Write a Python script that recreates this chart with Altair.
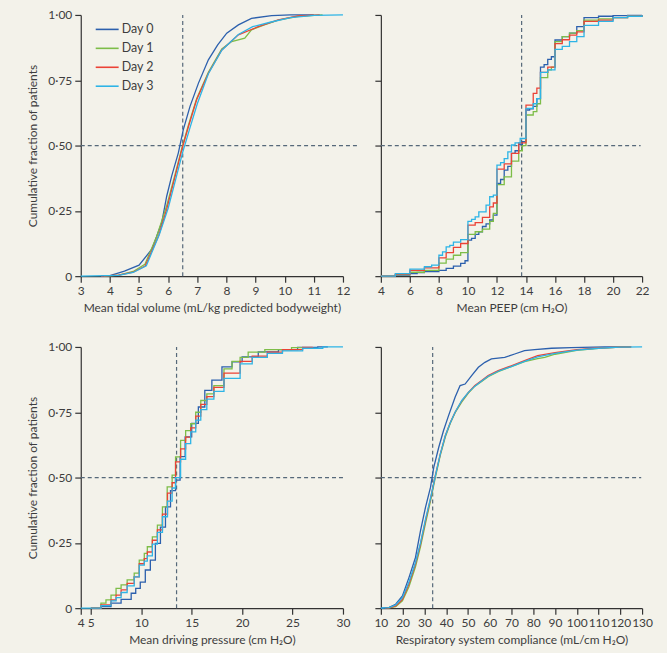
import altair as alt
import pandas as pd

DAYS = ["Day 0", "Day 1", "Day 2", "Day 3"]
COLORS = ["#2c60ad", "#7dbd48", "#ec4236", "#2db4e6"]
BG = "#f3f2ea"
DASH = "#56697a"
FONT = "Lato"
TEXT = "#3d3d3d"

Y_TITLE = "Cumulative fraction of patients"
Y_TICKS = [0, 0.25, 0.5, 0.75, 1.0]

# ---- Panel A: mean tidal volume (mL/kg PBW) ----
TV_D0_X = [3.7, 4.0, 4.5, 5.0, 5.44, 5.78, 5.95, 6.12, 6.35, 6.52, 6.75, 7.04, 7.38, 7.7, 8.01, 8.41, 8.86, 9.55, 10.2, 11.0]
TV_D0_F = [0, 0.002, 0.019, 0.042, 0.103, 0.205, 0.306, 0.383, 0.472, 0.561, 0.65, 0.739, 0.828, 0.885, 0.93, 0.962, 0.987, 0.997, 1.0, 1.0]
TV_D1_X = [3.8, 4.3, 4.8, 5.2, 5.6, 5.95, 6.24, 6.47, 6.70, 6.98, 7.38, 7.84, 8.18, 8.63, 8.86, 9.3, 9.78, 10.46, 11.3]
TV_D1_F = [0, 0.004, 0.018, 0.045, 0.15, 0.27, 0.39, 0.49, 0.58, 0.68, 0.78, 0.87, 0.898, 0.911, 0.943, 0.962, 0.98, 0.995, 1.0]
TV_D2_X = [3.7, 4.3, 4.8, 5.21, 5.67, 5.95, 6.24, 6.47, 6.70, 6.98, 7.38, 7.84, 8.41, 9.09, 9.78, 10.46, 11.2]
TV_D2_F = [0, 0.004, 0.015, 0.039, 0.154, 0.256, 0.383, 0.485, 0.574, 0.676, 0.777, 0.866, 0.924, 0.955, 0.981, 0.996, 1.0]
TV_D3_X = [3.0, 4.3, 4.8, 5.25, 5.7, 6.0, 6.28, 6.5, 6.74, 7.0, 7.38, 7.84, 8.41, 8.9, 9.5, 10.2, 11.0, 12.0]
TV_D3_F = [0, 0.003, 0.014, 0.04, 0.16, 0.26, 0.38, 0.475, 0.565, 0.66, 0.775, 0.865, 0.925, 0.955, 0.972, 0.99, 0.998, 1.0]

# ---- Panel B: mean PEEP (cm H2O) ----
PEEP_D0_X = [4, 5, 6, 6.5, 7, 8, 8.5, 9, 9.5, 9.8, 10, 10.25, 10.5, 10.75, 11, 11.25, 11.5, 11.75, 12, 12.25, 12.5, 12.75, 13, 13.25, 13.5, 13.75, 14, 14.25, 14.5, 14.75, 15, 15.25, 15.5, 15.75, 16, 16.5, 17, 17.5, 18, 19, 20, 21, 22]
PEEP_D0_F = [0, 0.004, 0.01, 0.014, 0.017, 0.022, 0.03, 0.038, 0.049, 0.059, 0.138, 0.145, 0.16, 0.17, 0.19, 0.2, 0.215, 0.234, 0.355, 0.37, 0.406, 0.42, 0.47, 0.48, 0.505, 0.515, 0.636, 0.64, 0.65, 0.68, 0.80, 0.81, 0.83, 0.84, 0.904, 0.917, 0.93, 0.955, 0.99, 0.995, 0.997, 0.998, 1.0]
PEEP_D1_X = [4, 5, 6, 7, 8, 8.5, 9, 9.5, 10, 10.5, 11, 11.5, 11.75, 12, 12.5, 13, 13.5, 13.75, 14, 14.5, 14.75, 15, 15.5, 15.75, 16, 16.5, 17, 17.5, 18, 19, 20, 21, 22]
PEEP_D1_F = [0, 0.006, 0.015, 0.022, 0.05, 0.065, 0.08, 0.09, 0.16, 0.17, 0.18, 0.21, 0.24, 0.35, 0.38, 0.44, 0.48, 0.5, 0.617, 0.63, 0.66, 0.76, 0.79, 0.8, 0.898, 0.917, 0.93, 0.94, 0.98, 0.985, 0.99, 0.995, 1.0]
PEEP_D2_X = [4, 5, 6, 7, 8, 8.5, 9, 9.5, 10, 10.5, 11, 11.5, 11.75, 12, 12.5, 13, 13.5, 14, 14.5, 14.75, 15, 15.5, 16, 16.5, 17, 17.5, 18, 19, 20, 21, 22]
PEEP_D2_F = [0, 0.008, 0.022, 0.032, 0.07, 0.09, 0.11, 0.125, 0.195, 0.205, 0.225, 0.265, 0.28, 0.41, 0.43, 0.47, 0.51, 0.655, 0.7, 0.72, 0.78, 0.8, 0.89, 0.905, 0.923, 0.935, 0.975, 0.98, 0.99, 0.995, 1.0]
PEEP_D3_X = [4, 5, 6, 7, 7.5, 8, 8.25, 8.5, 8.75, 9, 9.5, 10, 10.25, 10.5, 10.75, 11.25, 11.5, 11.75, 12, 12.25, 12.5, 12.75, 13, 13.25, 13.6, 14, 14.5, 14.75, 15, 15.5, 16, 16.5, 17, 17.5, 18, 19, 20, 21, 22]
PEEP_D3_F = [0, 0.01, 0.027, 0.036, 0.042, 0.08, 0.093, 0.112, 0.118, 0.13, 0.14, 0.21, 0.217, 0.227, 0.246, 0.272, 0.304, 0.31, 0.425, 0.435, 0.45, 0.476, 0.502, 0.51, 0.527, 0.642, 0.66, 0.68, 0.78, 0.79, 0.868, 0.88, 0.898, 0.917, 0.96, 0.975, 0.99, 0.995, 1.0]

# ---- Panel C: mean driving pressure (cm H2O) ----
DP_D0_X = [5, 6, 7, 8, 9, 9.45, 9.9, 10.4, 10.9, 11.4, 11.9, 12.4, 12.9, 13.4, 13.85, 14.35, 15, 15.66, 16.3, 17, 18, 19, 20, 21.6, 23.6, 25.5, 27.5, 28.5]
DP_D0_F = [0, 0.006, 0.019, 0.034, 0.057, 0.076, 0.10, 0.146, 0.184, 0.248, 0.31, 0.388, 0.45, 0.49, 0.58, 0.656, 0.707, 0.77, 0.834, 0.873, 0.924, 0.943, 0.962, 0.981, 0.99, 0.998, 1.0, 1.0]
DP_D1_X = [5, 6, 6.5, 7, 7.5, 8, 8.6, 9.3, 9.8, 10.3, 10.6, 11.1, 11.6, 12.1, 12.57, 13.06, 13.4, 13.9, 14.4, 14.9, 15.4, 15.9, 16.5, 17.2, 18.2, 19, 19.8, 20.6, 22.25, 24.9, 26.2]
DP_D1_F = [0, 0.019, 0.032, 0.05, 0.076, 0.089, 0.108, 0.134, 0.184, 0.21, 0.235, 0.273, 0.318, 0.388, 0.464, 0.509, 0.579, 0.642, 0.68, 0.706, 0.75, 0.795, 0.82, 0.852, 0.916, 0.945, 0.96, 0.98, 0.99, 0.997, 1.0]
DP_D2_X = [5, 6, 7, 7.5, 8, 8.6, 9.3, 9.8, 10.3, 10.6, 11.1, 11.6, 12.1, 12.6, 13.06, 13.4, 13.9, 14.4, 14.9, 15.4, 15.9, 16.5, 17.2, 18.2, 19.8, 21, 22.5, 24, 26, 27]
DP_D2_F = [0, 0.012, 0.032, 0.05, 0.07, 0.095, 0.12, 0.17, 0.19, 0.215, 0.26, 0.30, 0.36, 0.44, 0.48, 0.56, 0.61, 0.655, 0.69, 0.735, 0.78, 0.81, 0.845, 0.9, 0.945, 0.965, 0.98, 0.99, 0.998, 1.0]
DP_D3_X = [4, 5, 6, 7, 7.5, 8, 8.6, 9.3, 9.8, 10.3, 10.6, 11.1, 11.6, 12.1, 12.6, 13.06, 13.4, 13.9, 14.4, 14.9, 15.4, 15.9, 16.5, 17.2, 18.2, 19.8, 21, 22.5, 24, 26, 28, 30]
DP_D3_F = [0, 0, 0.01, 0.028, 0.04, 0.06, 0.085, 0.12, 0.165, 0.18, 0.2, 0.245, 0.29, 0.35, 0.41, 0.46, 0.5, 0.57, 0.63, 0.675, 0.72, 0.76, 0.8, 0.83, 0.88, 0.935, 0.96, 0.975, 0.985, 0.995, 1.0, 1.0]

# ---- Panel D: respiratory system compliance (mL/cm H2O) ----
CRS_D0_X = [10, 13.8, 16.8, 19.9, 22.9, 25.9, 28.2, 30.5, 32.8, 34.3, 36.6, 38.8, 41.1, 44.1, 46.4, 48.7, 51.7, 54.8, 57.8, 60.8, 66.9, 71.5, 76, 80.6, 88.4, 97.5, 112.7, 125]
CRS_D0_F = [0, 0.003, 0.015, 0.047, 0.117, 0.194, 0.296, 0.386, 0.462, 0.539, 0.616, 0.68, 0.737, 0.807, 0.852, 0.858, 0.89, 0.922, 0.941, 0.954, 0.96, 0.973, 0.986, 0.99, 0.995, 0.997, 1.0, 1.0]
CRS_D1_X = [13, 16.8, 19.9, 22.9, 25.9, 28.2, 30.5, 32.8, 35, 37.3, 39.6, 41.9, 44.1, 47.2, 50.2, 53.2, 56.3, 59.3, 63.9, 69.9, 76, 82, 85.3, 90, 100, 110, 120, 125]
CRS_D1_F = [0, 0.006, 0.028, 0.082, 0.158, 0.235, 0.325, 0.41, 0.5, 0.585, 0.655, 0.708, 0.748, 0.79, 0.823, 0.85, 0.868, 0.886, 0.905, 0.925, 0.944, 0.955, 0.96, 0.972, 0.987, 0.995, 0.999, 1.0]
CRS_D2_X = [12, 13.8, 16.8, 19.9, 22.9, 25.9, 28.2, 30.5, 32.8, 35, 37.3, 39.6, 41.9, 44.1, 47.2, 50.2, 53.2, 56.3, 59.3, 63.9, 69.9, 76, 82, 90, 100, 110, 120, 125]
CRS_D2_F = [0, 0.001, 0.009, 0.034, 0.092, 0.169, 0.245, 0.335, 0.418, 0.507, 0.59, 0.66, 0.711, 0.75, 0.794, 0.826, 0.852, 0.871, 0.89, 0.909, 0.928, 0.948, 0.967, 0.978, 0.99, 0.996, 0.999, 1.0]
CRS_D3_X = [10, 13.8, 16.8, 19.9, 22.9, 25.9, 28.2, 30.5, 32.8, 35, 37.3, 39.6, 41.9, 44.1, 47.2, 50.2, 53.2, 56.3, 59.3, 63.9, 69.9, 76, 82, 90, 100, 110, 120, 130]
CRS_D3_F = [0, 0.002, 0.012, 0.04, 0.1, 0.175, 0.25, 0.34, 0.42, 0.505, 0.59, 0.66, 0.71, 0.75, 0.795, 0.826, 0.85, 0.87, 0.888, 0.907, 0.925, 0.945, 0.962, 0.975, 0.988, 0.995, 0.999, 1.0]

# medians (vertical dashed) and end of horizontal dashed line
MEDIANS = [6.5, 13.7, 13.5, 33.8]
HLINE_END = [12.5, 21.9, 30, 129.6]


def make_df(pairs):
    rows = []
    for day, (xs, fs) in zip(DAYS, pairs):
        for i, (x, f) in enumerate(zip(xs, fs)):
            rows.append({"day": day, "x": x, "f": f, "i": i})
    return pd.DataFrame(rows)


Y_LABEL_EXPR = "datum.value == 0 ? '0' : replace(format(datum.value, '.2f'), '.', '·')"


def panel(pairs, xdom, xticks, xtitle, median, hend, interp, show_y, width):
    df = make_df(pairs)
    xscale = alt.Scale(domain=xdom, nice=False, zero=False)
    yscale = alt.Scale(domain=[0, 1], nice=False, zero=False)
    xaxis = alt.Axis(values=xticks, title=xtitle, labelOverlap=False,
                     labelFlush=False, labelBound=False)
    if show_y:
        yaxis = alt.Axis(values=Y_TICKS, title=Y_TITLE, labelExpr=Y_LABEL_EXPR,
                         labelOverlap=False)
    else:
        yaxis = alt.Axis(values=Y_TICKS, title=None, labels=False)
    X = lambda: alt.X("x:Q", scale=xscale, axis=xaxis)
    Y = lambda: alt.Y("f:Q", scale=yscale, axis=yaxis)
    lines = alt.Chart(df).mark_line(interpolate=interp, strokeWidth=1.3).encode(
        x=X(), y=Y(),
        color=alt.Color("day:N", scale=alt.Scale(domain=DAYS, range=COLORS),
                        legend=alt.Legend(title=None, orient="none", legendX=14, legendY=2,
                                          symbolType="stroke", symbolSize=529,
                                          symbolStrokeWidth=1.6, rowPadding=-6,
                                          labelFontSize=12.5, labelColor=TEXT,
                                          labelFont=FONT, labelOffset=2)),
        order=alt.Order("i:Q"),
    )
    vdf = pd.DataFrame({"x": [median], "f": [0.0], "f2": [1.0]})
    vline = alt.Chart(vdf).mark_rule(color=DASH, strokeDash=[4, 3], strokeWidth=1.2).encode(
        x=X(), y=Y(), y2="f2:Q")
    hdf = pd.DataFrame({"x": [xdom[0]], "x2": [hend], "f": [0.5]})
    hline = alt.Chart(hdf).mark_rule(color=DASH, strokeDash=[4, 3], strokeWidth=1.2).encode(
        x=X(), x2="x2:Q", y=Y())
    return alt.layer(vline, hline, lines).properties(width=width, height=262)


pA = panel([(TV_D0_X, TV_D0_F), (TV_D1_X, TV_D1_F), (TV_D2_X, TV_D2_F), (TV_D3_X, TV_D3_F)],
           [3, 12], list(range(3, 13)), "Mean tidal volume (mL/kg predicted bodyweight)",
           MEDIANS[0], HLINE_END[0], "linear", True, 263)
pB = panel([(PEEP_D0_X, PEEP_D0_F), (PEEP_D1_X, PEEP_D1_F), (PEEP_D2_X, PEEP_D2_F), (PEEP_D3_X, PEEP_D3_F)],
           [4, 22], list(range(4, 23, 2)), "Mean PEEP (cm H₂O)",
           MEDIANS[1], HLINE_END[1], "step-after", False, 262)
pC = panel([(DP_D0_X, DP_D0_F), (DP_D1_X, DP_D1_F), (DP_D2_X, DP_D2_F), (DP_D3_X, DP_D3_F)],
           [4, 30], [4, 5, 10, 15, 20, 25, 30], "Mean driving pressure (cm H₂O)",
           MEDIANS[2], HLINE_END[2], "step-after", True, 263)
pD = panel([(CRS_D0_X, CRS_D0_F), (CRS_D1_X, CRS_D1_F), (CRS_D2_X, CRS_D2_F), (CRS_D3_X, CRS_D3_F)],
           [10, 130], list(range(10, 131, 10)), "Respiratory system compliance (mL/cm H₂O)",
           MEDIANS[3], HLINE_END[3], "linear", False, 262)

chart = alt.concat(
    pA, pB, pC, pD, columns=2,
    spacing=alt.RowColnumber(row=71, column=38), bounds="flush",
).properties(
    padding={"left": 26, "top": 8, "right": 14, "bottom": 8},
    background=BG,
).configure_view(stroke=None).configure_axis(
    grid=False,
    domainColor="#333333", domainWidth=1.2,
    tickColor="#333333", tickWidth=1.2, tickSize=6,
    labelFont=FONT, labelFontSize=12, labelColor=TEXT, labelPadding=3,
    titleFont=FONT, titleFontSize=12, titleFontWeight="normal", titleColor=TEXT,
).configure_axisX(titlePadding=6).configure_axisY(titlePadding=8)

chart.save("out.html", embed_options={"renderer": "svg", "actions": False})
